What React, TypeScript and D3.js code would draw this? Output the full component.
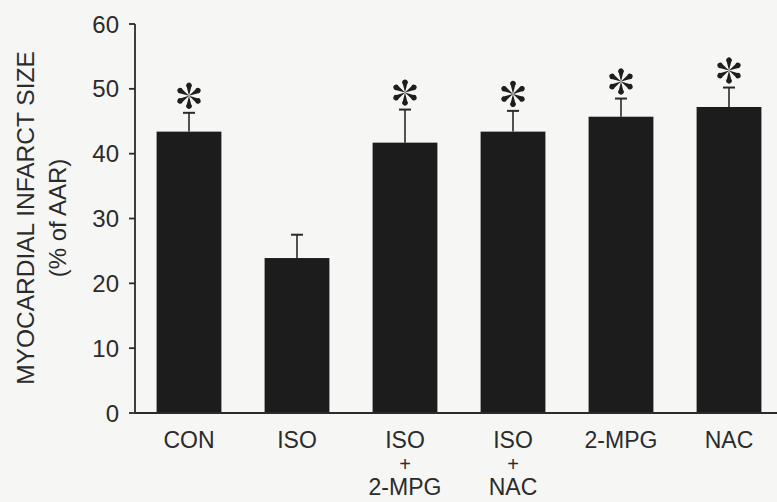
import React from "react";
import * as d3 from "d3";

const categories = ["CON", "ISO", "ISO+2-MPG", "ISO+NAC", "2-MPG", "NAC"];
const labelLines = [["CON"], ["ISO"], ["ISO", "+", "2-MPG"], ["ISO", "+", "NAC"], ["2-MPG"], ["NAC"]];
const means = [43.4, 23.9, 41.7, 43.4, 45.7, 47.2];
const errTops = [46.3, 27.5, 46.8, 46.6, 48.5, 50.2];
const significant = [true, false, true, true, true, true];
const yTicks = [0, 10, 20, 30, 40, 50, 60];

const W = 777;
const H = 502;
const FONT = "'Liberation Sans', Arial, Helvetica, sans-serif";
const INK = "#2b2b2b";

function Asterisk({ cx, cy }: { cx: number; cy: number }) {
  const angles = [0, 60, 120, 180, 240, 300];
  return (
    <g transform={`translate(${cx},${cy})`}>
      {angles.map((a) => (
        <path
          key={a}
          d="M0,0 L-2.1,-8.4 A2.8,2.8 0 1 1 2.1,-8.4 Z"
          transform={`rotate(${a})`}
          fill="#1e1e1e"
        />
      ))}
    </g>
  );
}

export default function App() {
  const x0 = 135;
  const x = d3
    .scaleBand<string>()
    .domain(categories)
    .range([x0, x0 + 648])
    .paddingInner(0.4)
    .paddingOuter(0.2);
  const y = d3.scaleLinear().domain([0, 60]).range([413, 24]);
  const bw = x.bandwidth();
  const lineY = [448, 471, 495];

  return (
    <svg
      width={W}
      height={H}
      style={{ position: "absolute", left: 0, top: 0, background: "#f6f6f4" }}
    >
      {categories.map((c, i) => (
        <rect
          key={c}
          x={x(c)!}
          y={y(means[i])}
          width={bw}
          height={y(0) - y(means[i])}
          fill="#1c1c1c"
        />
      ))}
      {categories.map((c, i) => {
        const cx = x(c)! + bw / 2;
        return (
          <g key={c + "e"} stroke="#2a2a2a" strokeWidth={1.6}>
            <line x1={cx} x2={cx} y1={y(means[i])} y2={y(errTops[i])} />
            <line x1={cx - 6} x2={cx + 6} y1={y(errTops[i])} y2={y(errTops[i])} strokeWidth={2} />
          </g>
        );
      })}
      {categories.map((c, i) =>
        significant[i] ? (
          <Asterisk key={c + "s"} cx={x(c)! + bw / 2} cy={y(errTops[i]) - 17} />
        ) : null
      )}
      <line x1={x0} x2={x0} y1={y(60)} y2={y(0)} stroke={INK} strokeWidth={1.8} />
      <line x1={x0} x2={W} y1={y(0)} y2={y(0)} stroke={INK} strokeWidth={1.8} />
      {yTicks.map((t) => (
        <g key={t}>
          <line x1={x0 - 6} x2={x0} y1={y(t)} y2={y(t)} stroke={INK} strokeWidth={1.8} />
          <text
            x={x0 - 16}
            y={y(t)}
            textAnchor="end"
            dominantBaseline="central"
            fontFamily={FONT}
            fontSize={24}
            fill={INK}
          >
            {t}
          </text>
        </g>
      ))}
      {categories.map((c, i) => (
        <text
          key={c + "l"}
          textAnchor="middle"
          fontFamily={FONT}
          fontSize={23}
          fill={INK}
        >
          {labelLines[i].map((ln, j) => (
            <tspan key={j} x={x(c)! + bw / 2} y={lineY[j]} fontSize={ln === "+" ? 20 : 23}>
              {ln}
            </tspan>
          ))}
        </text>
      ))}
      <g transform="translate(25,218) rotate(-90)">
        <text textAnchor="middle" dominantBaseline="central" fontFamily={FONT} fontSize={24.5} fill={INK}>
          MYOCARDIAL INFARCT SIZE
        </text>
      </g>
      <g transform="translate(57,218) rotate(-90)">
        <text textAnchor="middle" dominantBaseline="central" fontFamily={FONT} fontSize={24} fill={INK}>
          (% of AAR)
        </text>
      </g>
    </svg>
  );
}
